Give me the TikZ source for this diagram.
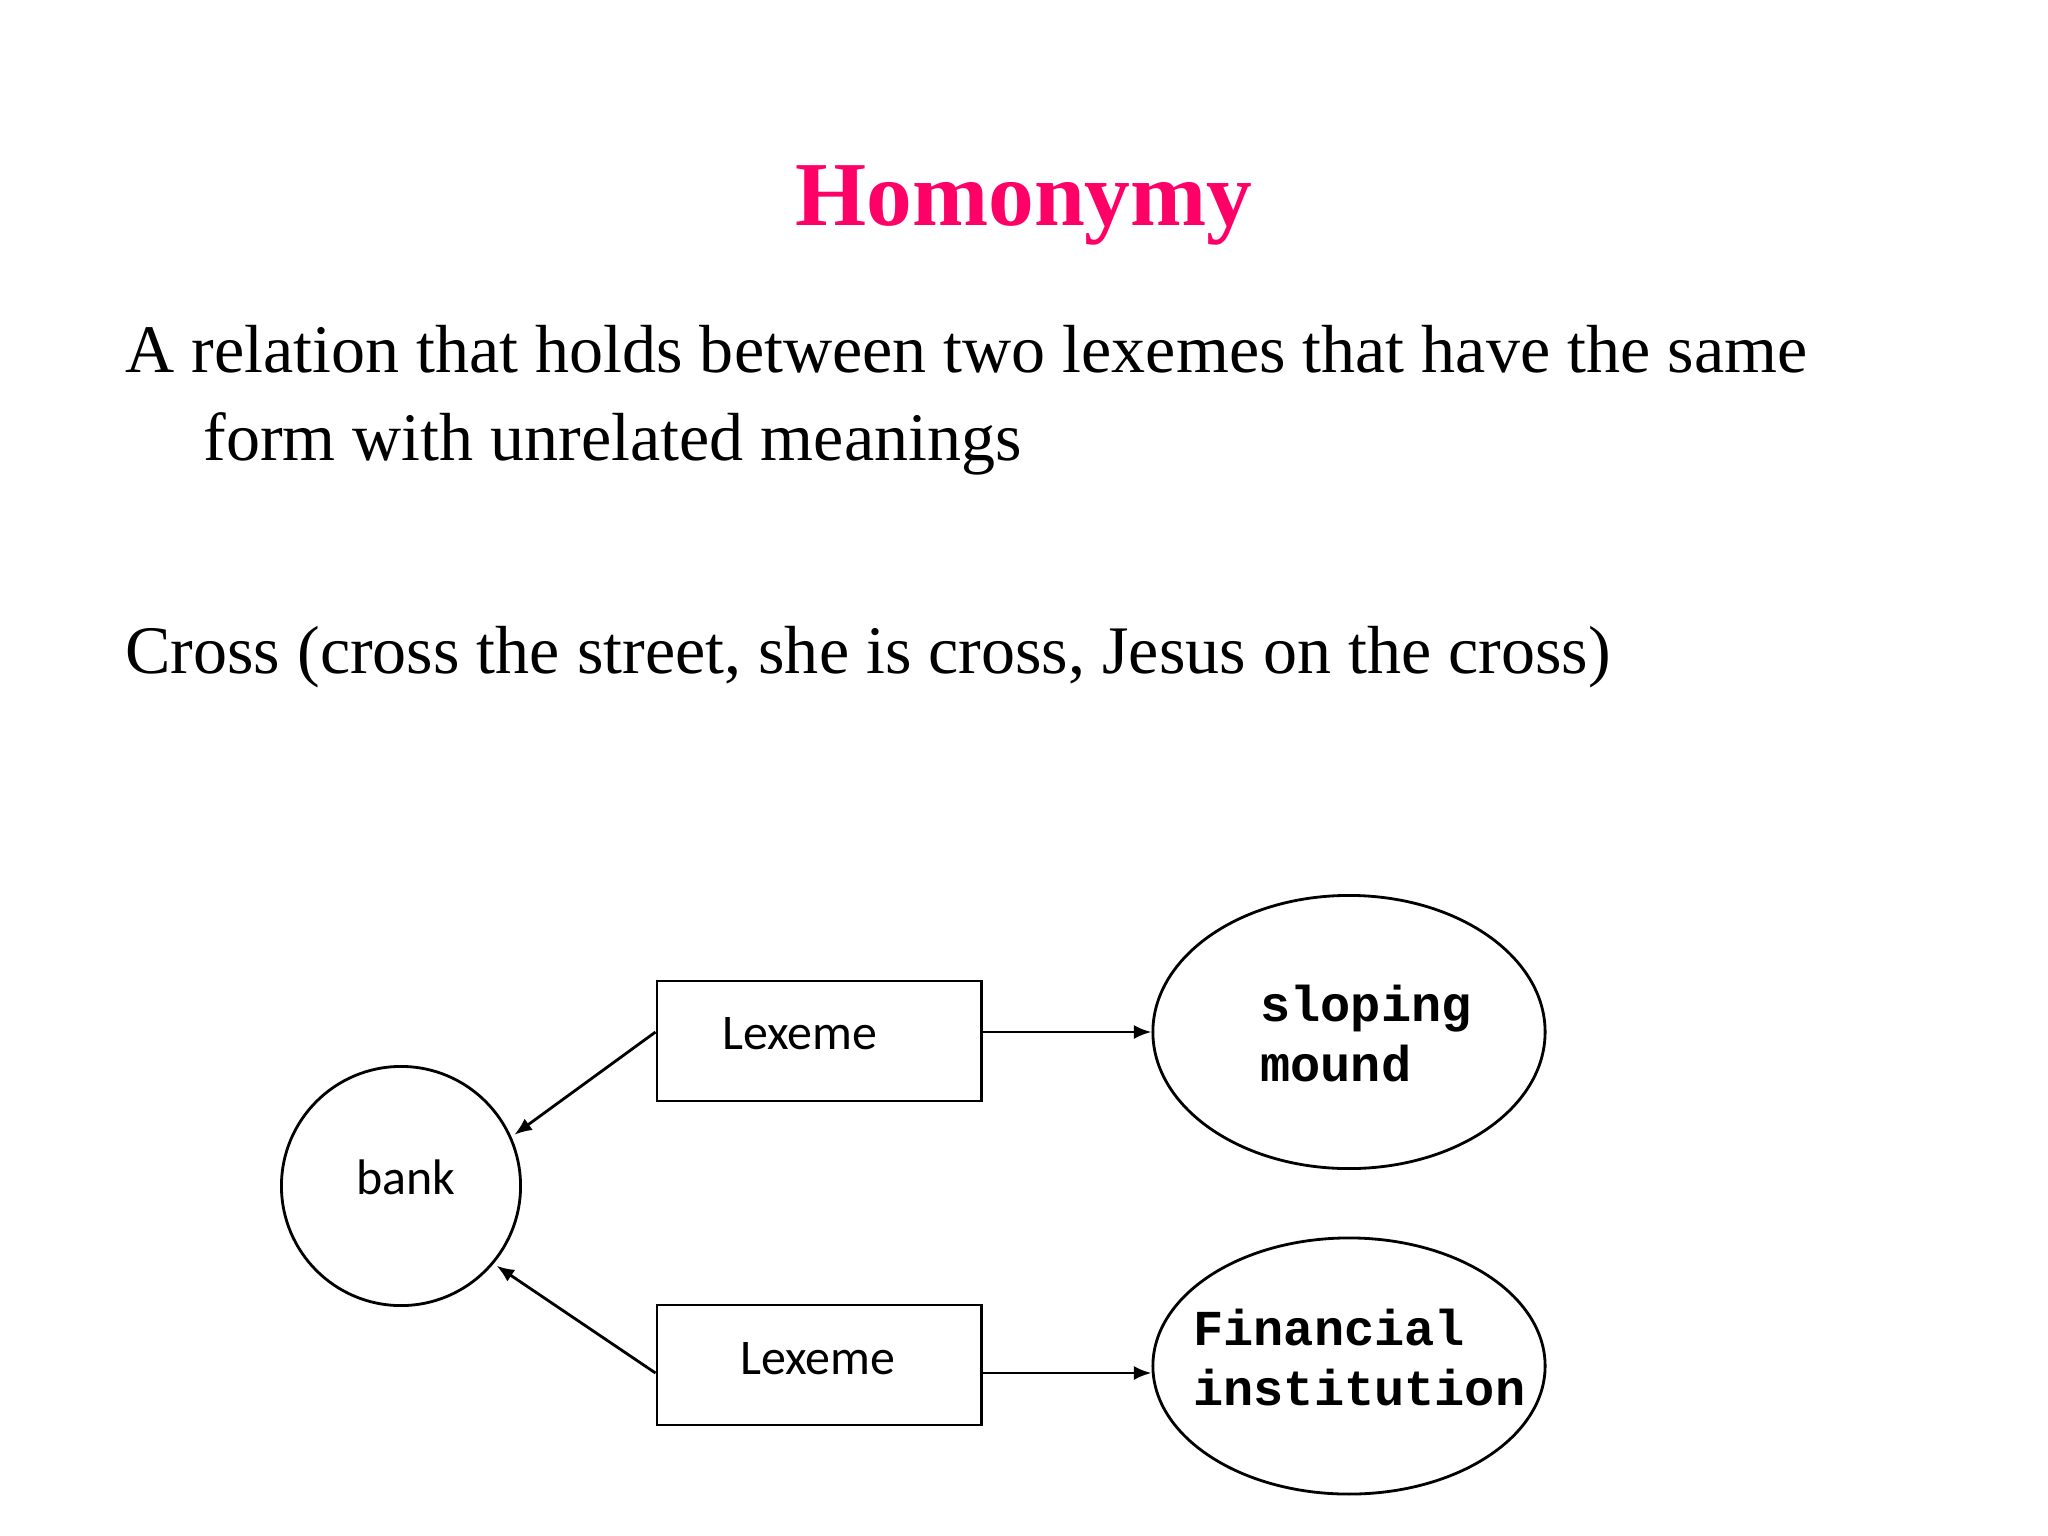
\documentclass[tikz,border=0pt]{standalone}
\usepackage{fontspec}
\setmainfont{Liberation Serif}
\setmonofont{Liberation Mono}
\newfontfamily\calibri{Carlito}
\usetikzlibrary{shapes,arrows.meta}
\definecolor{homopink}{RGB}{255,0,102}

\begin{document}
\begin{tikzpicture}[x=0.01cm, y=-0.01cm, line width=0.8pt,
        >={Latex[length=5pt,width=4pt]},
        every node/.append style={inner sep=0pt}]
      \tikzstyle{slide} = [anchor=base west, font=\fontsize{19.35}{23}\selectfont]
      \tikzstyle{lexeme} = [draw, rectangle, minimum width=3.24cm, minimum height=1.2cm]
      \tikzstyle{word} = [font=\calibri\fontsize{14.2}{17}\selectfont]
      \tikzstyle{sense} = [draw, ellipse, minimum width=3.92cm]
      \tikzstyle{gloss} = [anchor=base west, align=left,
        font=\ttfamily\bfseries\fontsize{14.3}{17}\selectfont]
      \useasboundingbox (0,0) rectangle (2048,1536);
      \node (Title) [anchor=base, text=homopink,
        font=\bfseries\fontsize{26}{30}\selectfont] at (1024,225) {Homonymy};
      \node (Def) [slide] at (124,372) {A relation that holds between two lexemes that have the same};
      \node (DefCont) [slide] at (202,460) {form with unrelated meanings};
      \node (Cross) [slide] at (124,673) {Cross (cross the street, she is cross, Jesus on the cross)};
      \node (bank) [draw, circle, minimum size=2.39cm] at (401,1186) {};
      \node (bankText) [word, anchor=base west] at (355,1194) {bank};
      \node (Lexeme1) [lexeme] at (819,1041) {};
      \node (LexemeA) [word, anchor=base west] at (721,1049) {Lexeme};
      \node (Lexeme2) [lexeme] at (819,1365) {};
      \node (LexemeB) [word, anchor=base west] at (739,1374) {Lexeme};
      \node (Sloping) [sense, minimum height=2.73cm] at (1349,1032) {};
      \node (SlopingText) [gloss] at (1259,1081) {sloping\\mound};
      \node (Finance) [sense, minimum height=2.56cm] at (1349,1366) {};
      \node (FinanceText) [gloss] at (1192,1405) {Financial\\institution};
      \coordinate (row2) at (0,1373);
      \draw[->, shorten >=1pt] (Lexeme1.west |- Sloping) -- (bank.24);
      \draw[->, shorten >=1pt] (Lexeme2.west |- row2) -- (bank.-40);
      \draw[->] (Lexeme1.east |- Sloping) -- (Sloping.west);
      \draw[->] (Lexeme2.east |- row2) -- (Finance.west |- row2);
    \end{tikzpicture}
\end{document}
